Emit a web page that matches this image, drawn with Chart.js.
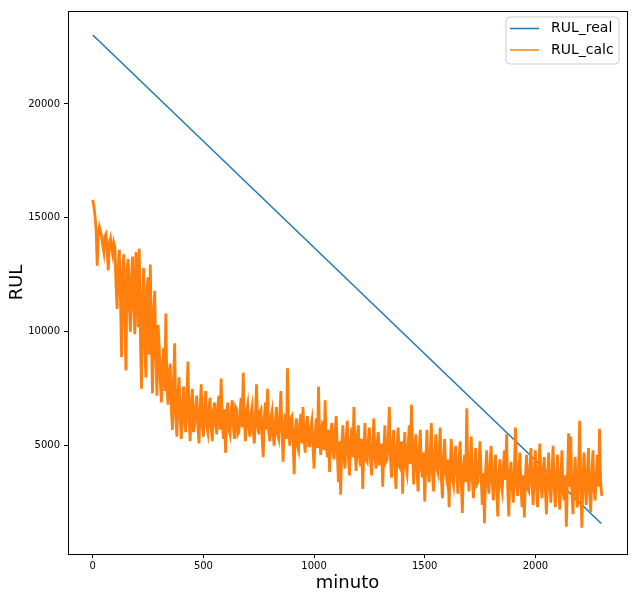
<!DOCTYPE html>
<html>
<head>
<meta charset="utf-8">
<script src="https://cdn.jsdelivr.net/npm/chart.js@4.4.1/dist/chart.umd.min.js"></script>
<style>
  html, body { margin: 0; padding: 0; background: #fff; }
  #chart { display: block; }
</style>
</head>
<body>
<canvas id="chart" width="636" height="600"></canvas>
<script>
// Data
const seriesNames = ['RUL_real', 'RUL_calc'];
const realMinutes = [0, 2298];
const realValues = [23030, 1590];
const calcStep = 5; // minutes between calc samples
const calcValues = [
    15800, 15500, 15100, 14500, 12900, 14300, 14600, 14400, 14200, 13800, 13500, 14200, 14300, 13600, 12700, 13900, 14100, 13700, 13400, 13900,
    13700, 12000, 11000, 12900, 13600, 11500, 8900, 12600, 13400, 10500, 8300, 12800, 13200, 11200, 10000, 12400, 13300, 11000, 9900, 13500,
    12600, 10200, 13650, 9800, 7500, 11600, 12800, 9300, 8000, 11900, 12400, 9000, 12950, 9600, 7300, 10900, 11800, 8800, 7200, 10300,
    9400, 7800, 6900, 8700, 9300, 7400, 10800, 7600, 6800, 8200, 8600, 6600, 5700, 7900, 9500, 6300, 5400, 7300, 8000, 6200,
    5300, 6800, 7600, 6000, 5600, 7100, 8700, 6200, 5200, 6900, 7500, 5600, 5900, 6700, 7200, 5800, 5100, 6600, 7700, 5900,
    5400, 6700, 7400, 5900, 5600, 6600, 7100, 5800, 5200, 6500, 6900, 6000, 5500, 6800, 7200, 5700, 7950, 6200, 5300, 6600,
    4700, 6300, 6900, 5700, 5500, 6500, 7000, 5900, 5300, 6700, 6600, 5500, 5600, 6400, 7100, 5800, 8200, 6100, 5200, 6500,
    6800, 5800, 5400, 6400, 6700, 5600, 5100, 6300, 7700, 5900, 5500, 6500, 6600, 5400, 4500, 6200, 6900, 5700, 7500, 5600,
    5200, 6200, 6500, 5400, 5000, 6100, 6700, 5500, 5300, 6300, 7400, 5600, 4300, 5900, 6400, 5300, 8400, 6000, 5000, 6200,
    6300, 5200, 3750, 5600, 6200, 5000, 4800, 6000, 6400, 5100, 6700, 5300, 4700, 5900, 6300, 5000, 5000, 5800, 6100, 4900,
    4000, 5500, 6200, 4900, 7600, 5300, 4600, 5800, 6100, 4800, 7000, 5100, 4500, 5700, 3850, 5400, 6000, 4900, 4400, 5600,
    6300, 4700, 3400, 5200, 2850, 5000, 5900, 4400, 4000, 5400, 6100, 4600, 3700, 5100, 5800, 4500, 6700, 4800, 3900, 5300,
    5900, 4500, 4100, 5300, 3100, 4900, 6000, 4400, 4300, 5200, 5800, 4300, 3700, 5000, 6200, 4600, 4000, 5100, 5600, 4200,
    4200, 5100, 3200, 4700, 5900, 4300, 4400, 5300, 6700, 4500, 3600, 5000, 5700, 4200, 3100, 4900, 5800, 4100, 4000, 5200,
    2900, 4600, 5600, 4100, 3800, 5000, 5900, 4200, 6800, 4700, 3300, 4900, 5500, 3900, 3000, 4800, 5700, 4000, 3600, 4700,
    2550, 4300, 5700, 3900, 3400, 4800, 6000, 3700, 3000, 4500, 5500, 4000, 3800, 4700, 5800, 3600, 2700, 4400, 5300, 3800,
    3500, 4400, 2300, 4000, 5300, 3600, 3300, 4500, 5000, 3700, 2900, 4300, 5200, 3500, 2050, 4100, 4600, 3400, 6640, 3900,
    3000, 4200, 5400, 3500, 2700, 4000, 4900, 3300, 3400, 4300, 5200, 3600, 2400, 3800, 1600, 3900, 4800, 3400, 2900, 4100,
    5000, 3400, 2600, 3900, 4600, 3200, 1900, 3700, 4400, 3300, 3000, 4000, 4800, 3500, 5500, 3100, 1900, 3800, 4300, 3200,
    2500, 3900, 5800, 3300, 2800, 3800, 4700, 3200, 2300, 3700, 1850, 3600, 4600, 3100, 3000, 4000, 4900, 3300, 2400, 3800,
    4800, 3200, 2300, 3700, 5100, 3400, 2700, 3900, 4500, 3100, 2000, 3600, 4700, 3300, 2500, 3800, 5000, 3200, 2300, 3600,
    4600, 3100, 2200, 3600, 4800, 3000, 2600, 3700, 1450, 3500, 5550, 3200, 5400, 3000, 2000, 3500, 4500, 3000, 2300, 3700,
    6100, 3300, 1400, 3500, 4700, 3200, 2400, 3800, 4900, 3000, 2100, 3600, 4800, 3100, 2600, 3700, 4600, 3200, 5750, 3400, 2800
];
const xTicks = [0, 500, 1000, 1500, 2000];
const yTicks = [5000, 10000, 15000, 20000];

const colors = ['#1f77b4', '#ff7f0e'];
const FONT = 'DejaVu Sans';

// frame on all four sides, axis titles and the legend box
const decorations = {
    id: 'decorations',
    afterDraw(chart) {
        const ctx = chart.ctx;
        const a = chart.chartArea;
        ctx.save();
        ctx.strokeStyle = '#000';
        ctx.lineWidth = 1;
        ctx.strokeRect(Math.round(a.left) + 0.5, Math.round(a.top) + 0.5,
            Math.round(a.right - a.left), Math.round(a.bottom - a.top));

        // axis titles
        ctx.fillStyle = '#000';
        ctx.font = '18px "' + FONT + '"';
        ctx.textAlign = 'center';
        ctx.textBaseline = 'middle';
        ctx.fillText('minuto', (a.left + a.right) / 2, 583);
        ctx.save();
        ctx.translate(17, (a.top + a.bottom) / 2);
        ctx.rotate(-Math.PI / 2);
        ctx.fillText('RUL', 0, 0);
        ctx.restore();

        // legend
        const bx = 506, by = 17, bw = 113, bh = 47, r = 4;
        ctx.beginPath();
        ctx.moveTo(bx + r, by);
        ctx.arcTo(bx + bw, by, bx + bw, by + bh, r);
        ctx.arcTo(bx + bw, by + bh, bx, by + bh, r);
        ctx.arcTo(bx, by + bh, bx, by, r);
        ctx.arcTo(bx, by, bx + bw, by, r);
        ctx.closePath();
        ctx.fillStyle = 'rgba(255,255,255,0.8)';
        ctx.fill();
        ctx.strokeStyle = '#cccccc';
        ctx.stroke();

        ctx.font = '14px "' + FONT + '"';
        ctx.textAlign = 'left';
        seriesNames.forEach(function(name, i) {
            const ly = 28.5 + i * 21.5;
            ctx.strokeStyle = colors[i];
            ctx.lineWidth = 1.5;
            ctx.beginPath();
            ctx.moveTo(510, ly);
            ctx.lineTo(539, ly);
            ctx.stroke();
            ctx.fillStyle = '#000';
            ctx.fillText(name, 551, ly);
        });
        ctx.restore();
    }
};

document.addEventListener('DOMContentLoaded', function() {
    const realData = realMinutes.map((m, i) => ({ x: m, y: realValues[i] }));
    const calcData = calcValues.map((v, i) => ({ x: i * calcStep, y: v }));

    new Chart(document.getElementById('chart').getContext('2d'), {
        type: 'line',
        data: {
            datasets: [{
                label: seriesNames[0],
                data: realData,
                borderColor: colors[0],
                borderWidth: 1.5,
                pointRadius: 0,
                order: 1
            }, {
                label: seriesNames[1],
                data: calcData,
                borderColor: colors[1],
                borderWidth: 2.8,
                borderJoinStyle: 'miter',
                pointRadius: 0,
                order: 0
            }]
        },
        options: {
            responsive: false,
            animation: false,
            layout: { padding: { top: 11, right: 9, left: 0, bottom: 0 } },
            plugins: {
                legend: { display: false },
                tooltip: { enabled: false }
            },
            scales: {
                x: {
                    type: 'linear',
                    min: -112,
                    max: 2414,
                    afterBuildTicks: scale => { scale.ticks = xTicks.map(v => ({ value: v })); },
                    afterFit: scale => { scale.height = 46; },
                    grid: { drawOnChartArea: false, tickLength: 4, tickColor: '#000' },
                    border: { color: '#000' },
                    ticks: {
                        color: '#000',
                        padding: 2,
                        maxRotation: 0,
                        font: { family: FONT, size: 10 },
                        callback: v => String(v)
                    }
                },
                y: {
                    min: 250,
                    max: 24080,
                    afterBuildTicks: scale => { scale.ticks = yTicks.map(v => ({ value: v })); },
                    afterFit: scale => { scale.width = 68; },
                    grid: { drawOnChartArea: false, tickLength: 4, tickColor: '#000' },
                    border: { color: '#000' },
                    ticks: {
                        color: '#000',
                        padding: 4,
                        font: { family: FONT, size: 10 },
                        callback: v => String(v)
                    }
                }
            }
        },
        plugins: [decorations]
    });
});
</script>
</body>
</html>
